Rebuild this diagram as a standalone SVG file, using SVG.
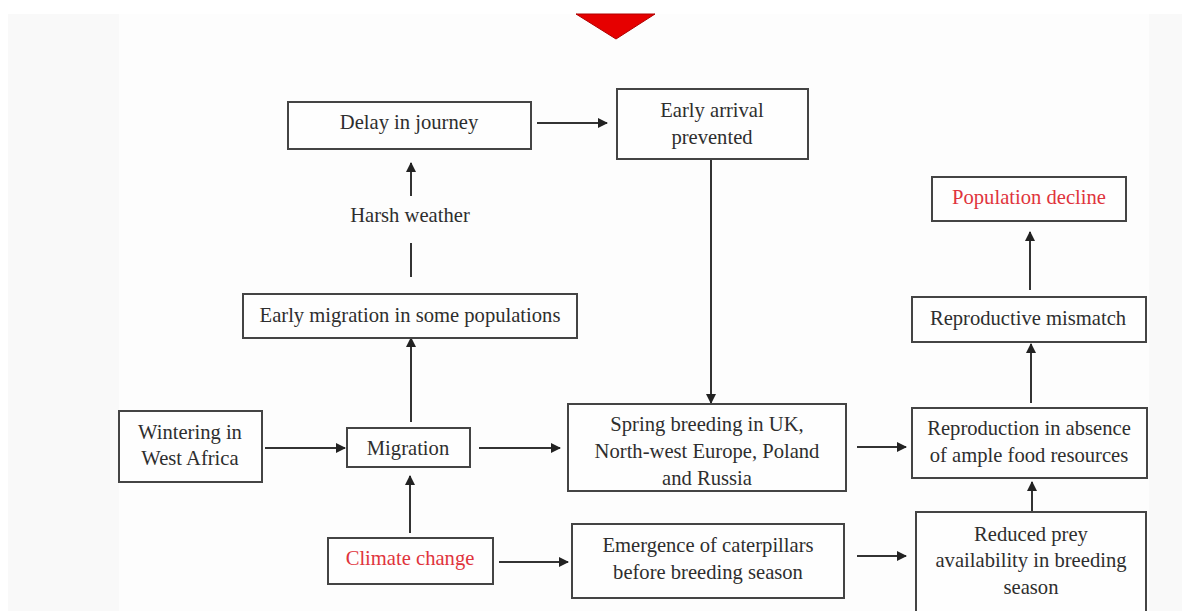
<svg xmlns="http://www.w3.org/2000/svg" width="1182" height="611" viewBox="0 0 1182 611">
<defs>
<style>
.box{fill:#fefefe;stroke:#444;stroke-width:2}
.t{font-family:"Liberation Serif","Times New Roman",serif;font-size:20.6px;fill:#2e2e2e;text-anchor:middle}
.r{fill:#e0343c}
.c{stroke:#333;stroke-width:2;fill:none}
</style>
<marker id="ah" viewBox="0 0 10 10" refX="9" refY="5" markerWidth="10" markerHeight="10" markerUnits="userSpaceOnUse" orient="auto">
<path d="M0,0 L10,5 L0,10 z" fill="#222"/>
</marker>
</defs>
<rect x="0" y="0" width="1182" height="611" fill="#ffffff"/>
<rect x="8" y="14" width="1174" height="597" fill="#f9f9f9"/>
<rect x="119" y="14" width="1030" height="597" fill="#fdfdfd"/>
<polygon points="576,14 655,14 616,39" fill="#e60000" stroke="#b00000" stroke-width="1"/>

<g id="connectors">
<line class="c" x1="537" y1="123" x2="607" y2="123" marker-end="url(#ah)"/>
<line class="c" x1="711" y1="159" x2="711" y2="403" marker-end="url(#ah)"/>
<line class="c" x1="411" y1="196" x2="411" y2="163" marker-end="url(#ah)"/>
<line class="c" x1="411" y1="243" x2="411" y2="277"/>
<line class="c" x1="411" y1="422" x2="411" y2="338" marker-end="url(#ah)"/>
<line class="c" x1="265" y1="448" x2="345" y2="448" marker-end="url(#ah)"/>
<line class="c" x1="479" y1="448" x2="560" y2="448" marker-end="url(#ah)"/>
<line class="c" x1="410" y1="533" x2="410" y2="476" marker-end="url(#ah)"/>
<line class="c" x1="499" y1="562" x2="568" y2="562" marker-end="url(#ah)"/>
<line class="c" x1="857" y1="447" x2="906" y2="447" marker-end="url(#ah)"/>
<line class="c" x1="857" y1="556" x2="906" y2="556" marker-end="url(#ah)"/>
<line class="c" x1="1032" y1="512" x2="1032" y2="482" marker-end="url(#ah)"/>
<line class="c" x1="1031" y1="403" x2="1031" y2="344" marker-end="url(#ah)"/>
<line class="c" x1="1030" y1="290" x2="1030" y2="232" marker-end="url(#ah)"/>
</g>

<g id="delay">
<rect class="box" x="288" y="102" width="243" height="47"/>
<text class="t" x="409" y="129">Delay in journey</text>
</g>
<g id="early-arrival">
<rect class="box" x="617" y="89" width="191" height="70"/>
<text class="t" x="712" y="117">Early arrival</text>
<text class="t" x="712" y="144">prevented</text>
</g>
<g id="harsh-weather">
<text class="t" x="410" y="222">Harsh weather</text>
</g>
<g id="early-migration">
<rect class="box" x="243" y="294" width="334" height="44"/>
<text class="t" x="410" y="322">Early migration in some populations</text>
</g>
<g id="wintering">
<rect class="box" x="119" y="411" width="143" height="71"/>
<text class="t" x="190" y="439">Wintering in</text>
<text class="t" x="190" y="465">West Africa</text>
</g>
<g id="migration">
<rect class="box" x="347" y="428" width="123" height="39"/>
<text class="t" x="408" y="455">Migration</text>
</g>
<g id="climate">
<rect class="box" x="328" y="538" width="165" height="46"/>
<text class="t r" x="410" y="565">Climate change</text>
</g>
<g id="spring">
<rect class="box" x="568" y="404" width="278" height="87"/>
<text class="t" x="707" y="431">Spring breeding in UK,</text>
<text class="t" x="707" y="458">North-west Europe, Poland</text>
<text class="t" x="707" y="485">and Russia</text>
</g>
<g id="emergence">
<rect class="box" x="572" y="524" width="272" height="74"/>
<text class="t" x="708" y="552">Emergence of caterpillars</text>
<text class="t" x="708" y="579">before breeding season</text>
</g>
<g id="reproduction">
<rect class="box" x="912" y="408" width="235" height="70"/>
<text class="t" x="1029" y="435">Reproduction in absence</text>
<text class="t" x="1029" y="462">of ample food resources</text>
</g>
<g id="reduced-prey">
<rect class="box" x="916" y="512" width="230" height="110"/>
<text class="t" x="1031" y="541">Reduced prey</text>
<text class="t" x="1031" y="567">availability in breeding</text>
<text class="t" x="1031" y="594">season</text>
</g>
<g id="mismatch">
<rect class="box" x="912" y="297" width="234" height="45"/>
<text class="t" x="1028" y="325">Reproductive mismatch</text>
</g>
<g id="decline">
<rect class="box" x="932" y="177" width="194" height="44"/>
<text class="t r" x="1029" y="204">Population decline</text>
</g>
</svg>
